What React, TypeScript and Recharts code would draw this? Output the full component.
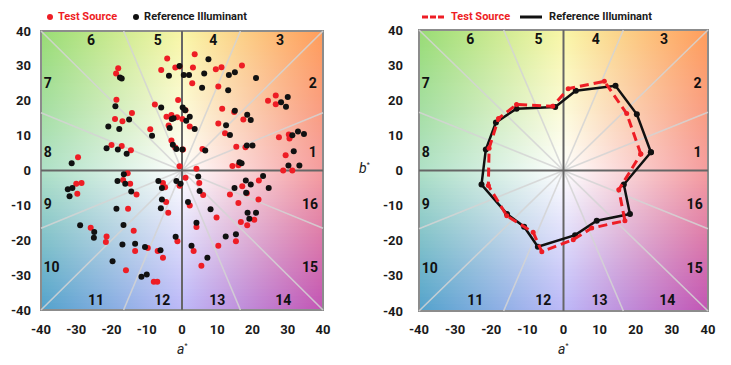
import React from "react"
import {
  Legend,
  ReferenceArea,
  ReferenceLine,
  Scatter,
  ScatterChart,
  XAxis,
  YAxis,
} from "recharts"

type Pt = [number, number]

const axisTicks = [-40, -30, -20, -10, 0, 10, 20, 30, 40]

// left panel: every colour sample, a* / b*
const testSamples: Pt[] = [
  [-18.1, 29.3], [-18.7, 27.8], [-18.6, 20.3], [-19, 14.8], [-16.9, 14.1], [-14.2, 16.5],
  [-7.7, 18.9], [-9, 11.8], [-4.2, 32.1], [-5.9, 28.8], [-1.9, 29.5], [-0.7, 29.8],
  [-1.1, 20.2], [-4.4, 15.4], [-3, 15.9], [-1.4, 15.3], [-3.8, 12.9], [-3, 8.6],
  [-1.9, 6.6], [0.3, 6], [-0.7, 1.2], [1, 17.3], [0.1, 14.8], [2.2, 12.6],
  [3.6, 33.3], [3.1, 29.5], [2.9, 25], [5.8, 6.2], [4.1, 0.5], [9.6, 29],
  [11.2, 29.6], [10.3, 24.1], [11.4, 17.7], [10.3, 13.5], [12.2, 10.7], [14.8, 16.8],
  [17.4, 14.6], [17, 30.1], [15.4, 6.8], [18, 6.7], [14.3, 1.3], [16, 1.5],
  [24.4, 20], [26.6, 21.5], [26.6, 19], [27.5, 9.5], [30.3, 10.3], [30.5, 9.2],
  [29.4, 4.4], [28.7, 0], [31.3, 0], [-29.5, 3.8], [-20, 7.3], [-17.1, 7], [-14.5, 5.8],
  [-15.4, -0.8], [-16.7, -2.7], [-14.7, -3.8], [-12.9, -6.9], [-30, -3.8], [-28.5, -3.6],
  [-29.7, -6.7], [-15.3, -11], [-13.7, -17.3], [-13.3, -23.1], [-21.4, -18.9], [-21.6, -20.5],
  [-25.9, -16.4], [-15.9, -28.6], [-9.7, -22.2], [-8, -31.9], [-7, -31.9], [-6.9, -23.1],
  [-5.4, -25], [-4.5, -9], [-3.9, -12.1], [-5.4, -3.6], [-4.8, -4.8], [-1.3, -20.3],
  [-0.7, -4.4], [1, -2.1], [2.2, -10], [3.3, -23.1], [4.1, -16.2], [4.9, -3.6],
  [6, -7], [5.5, -27.3], [9.8, -13.5], [10.3, -21.6], [13.6, -6.9], [15.3, -20.3],
  [16, -9.3], [16.7, -14.8], [17.1, -4.5], [18.5, -15.7], [18.4, -6.5], [20.5, -14.1],
  [21.7, -8.3], [21.8, -2.9],
]

const refSamples: Pt[] = [
  [-31.3, 2.1], [-21.4, 6.4], [-18.2, 6], [-15.7, 4.8], [-20.9, 12.6], [-17.8, 11.9],
  [-15, 14.6], [-18.9, 18.4], [-17.6, 26.7], [-17.1, 26.4], [-8.5, 10], [-5.9, 18.1],
  [-3.7, 27.2], [-0.7, 30], [0.5, 27.4], [2, 27.4], [0.2, 18.1], [0.9, 17.3],
  [-2.9, 14.8], [-2.4, 15], [1.2, 14.3], [2.2, 15.4], [-3.5, 12.2], [-2.6, 7.4],
  [-1.6, 6.2], [0.1, 6], [3.6, 11.9], [5.7, 23.7], [6.3, 27.8], [7.5, 31.9],
  [6.6, 5.7], [13.3, 27.4], [15, 28.2], [13.1, 23], [12.5, 13], [13.6, 10.2],
  [15, 17.1], [18.5, 16], [19.5, 14.5], [21, 26.5], [18.4, 7.2], [20, 7.2],
  [16.3, 2.4], [16.9, 2.1], [28.1, 19.6], [30, 21.1], [29.5, 18.3], [31.3, 10.1],
  [32.9, 11.2], [34.6, 10.5], [31.7, 5.5], [30.2, 1.4], [33.3, 1.4],
  [-32.4, -5.4], [-31.1, -5], [-31.9, -7.4], [-28.9, -15.7], [-24.9, -17.6], [-25, -19.3],
  [-18.3, -3], [-16.5, -1.1], [-16.1, -3.8], [-14.4, -6], [-18.6, -11], [-16.6, -15.6],
  [-16.9, -21.2], [-13.3, -21], [-10.5, -21.9], [-19.7, -26], [-11.5, -30.5], [-10, -29.8],
  [-6.1, -22.9], [-6.7, -3], [-5.7, -5], [-5.7, -8.3], [-6, -10.8], [-1.6, -3],
  [-0.4, -3.8], [-1.8, -19], [1.7, -9], [2.7, -21.6], [4.1, -15], [4.6, -1.7],
  [5, -5.9], [8.1, -11.1], [7.2, -25], [12.4, -18.9], [14.9, -5], [15.3, -18.3],
  [18.1, -2.9], [18.2, -6.4], [19.5, -4], [18.6, -12.1], [21, -12.1], [19.1, -13.8],
  [23, -1.6], [24.6, -5],
]

// right panel: average per hue bin 1..16
const testBinA = [21.4, 17.5, 11.3, 1.3, -3, -13, -18, -20.6, -20.8, -15.7, -8.4, -6, 2.7, 7.8, 17, 15.3]
const testBinB = [4.7, 16.2, 25.4, 23.3, 18.3, 18.8, 14.8, 6.3, -4.3, -12.9, -17.6, -23.1, -19.7, -16.4, -14.3, -5.5]
const refBinA = [24.2, 20.3, 14.4, 3.4, -2.3, -13, -18.7, -21.5, -22.7, -15.6, -10.9, -7.1, 3.2, 9.2, 18.4, 16.7]
const refBinB = [5.2, 16, 24.1, 22.7, 18.1, 17.6, 13.7, 6, -4, -12.4, -16, -21.7, -18.4, -14.3, -12.4, -4]

const binNumbers = [1, 2, 3, 4, 5, 6, 7, 8, 9, 10, 11, 12, 13, 14, 15, 16]
const binLabelA = [37.1, 37.1, 27.8, 8.9, -6.9, -25.8, -38.1, -38.1, -38.1, -37, -24.4, -5.6, 10, 28.7, 36.3, 36.3]
const binLabelB = [5.2, 25, 37.4, 37.4, 37.4, 37.4, 25, 5.2, -9.5, -27.7, -37, -37, -37, -37, -27.7, -9.5]

const sectorAngles = [22.5, 45, 67.5, 112.5, 135, 157.5]

const RED = "#ee1d25"
const BLACK = "#111111"

const toXY = (pts: Pt[]) => pts.map(([x, y]) => ({ x, y }))
const closedRing = (a: number[], b: number[]) => {
  const pts = a.map((x, i) => ({ x, y: b[i] }))
  return [...pts, pts[0]]
}
const binLabels = binNumbers.map((n, i) => ({ n, x: binLabelA[i], y: binLabelB[i] }))

// background: bilinear blend of a 3x3 colour grid (rows b=-40,0,40; cols a=-40,0,40)
const bgGrid = [
  ["#52a2cc", "#bcb8f8", "#c254b4"],
  ["#aee0c6", "#ffffff", "#f59c9e"],
  ["#98dc74", "#f9f6a6", "#ff9c5a"],
]
const hex = (h: string) => [1, 3, 5].map((i) => parseInt(h.slice(i, i + 2), 16))
const mix = (c1: number[], c2: number[], t: number) => c1.map((v, i) => v + (c2[i] - v) * t)
function bgColor(a: number, b: number) {
  const ix = a < 0 ? 0 : 1
  const iy = b < 0 ? 0 : 1
  const tx = (a - (ix * 40 - 40)) / 40
  const ty = (b - (iy * 40 - 40)) / 40
  const lo = mix(hex(bgGrid[iy][ix]), hex(bgGrid[iy][ix + 1]), tx)
  const hi = mix(hex(bgGrid[iy + 1][ix]), hex(bgGrid[iy + 1][ix + 1]), tx)
  const c = mix(lo, hi, ty)
  return `rgb(${c.map((v) => Math.round(v)).join(",")})`
}
const bgRows = Array.from({ length: 80 }, (_, i) => -40 + i)

function sectorEnd(deg: number) {
  const t = Math.tan((deg * Math.PI) / 180)
  return Math.abs(t) <= 1 ? { x: 40, y: 40 * t } : { x: 40 / t, y: 40 }
}

const font = "Roboto, 'DejaVu Sans', sans-serif"
const tickStyle = { fill: "#1a1a1a", fontSize: 13, fontWeight: 700, fontFamily: font }

function backdrop(p: string) {
  const els: React.ReactNode[] = bgRows.map((b, i) => (
    <ReferenceArea
      key={`${p}bg${i}`}
      x1={-40}
      x2={40}
      y1={b}
      y2={Math.min(40, b + 1.4)}
      fill={`url(#bgrow${i})`}
      fillOpacity={1}
      stroke="none"
    />
  ))
  sectorAngles.forEach((d) => {
    const e = sectorEnd(d)
    els.push(
      <ReferenceLine
        key={`${p}s${d}`}
        segment={[{ x: -e.x, y: -e.y }, { x: e.x, y: e.y }]}
        stroke="#d4d4d4"
        strokeOpacity={0.85}
        strokeWidth={1.6}
      />
    )
  })
  els.push(<ReferenceLine key={`${p}x0`} x={0} stroke="#666" strokeWidth={2} />)
  els.push(<ReferenceLine key={`${p}y0`} y={0} stroke="#666" strokeWidth={2} />)
  els.push(
    <ReferenceArea key={`${p}frame`} x1={-40} x2={40} y1={-40} y2={40} fill="none" stroke="#8c8c8c" strokeWidth={2} />
  )
  els.push(
    <Scatter
      key={`${p}bins`}
      data={binLabels}
      legendType="none"
      isAnimationActive={false}
      shape={(s: any) => (
        <text
          x={s.cx}
          y={s.cy}
          textAnchor="middle"
          dominantBaseline="central"
          fontSize={14}
          fontWeight={700}
          fontFamily={font}
          fill="#111"
        >
          {s.payload.n}
        </text>
      )}
    />
  )
  return els
}

const dot = (r: number, fill: string) => (s: any) => <circle cx={s.cx} cy={s.cy} r={r} fill={fill} />

function LegendRow({ items, line }: { items: { label: string; color: string; dash?: boolean }[]; line: boolean }) {
  return (
    <div style={{ display: "flex", alignItems: "center", fontFamily: font, fontSize: 11, fontWeight: 700, whiteSpace: "nowrap" }}>
      {items.map((it, i) => (
        <div key={i} style={{ display: "flex", alignItems: "center", marginRight: line ? 10 : 16 }}>
          {line ? (
            <svg width={22} height={6} style={{ marginRight: 7 }}>
              <line x1={0} y1={3} x2={22} y2={3} stroke={it.color} strokeWidth={3} strokeDasharray={it.dash ? "6 2" : undefined} />
            </svg>
          ) : (
            <span style={{ width: 6, height: 6, borderRadius: 3, background: it.color, marginRight: 5, display: "inline-block" }} />
          )}
          <span style={{ color: it.color === RED ? RED : "#1a1a1a" }}>{it.label}</span>
        </div>
      ))}
    </div>
  )
}

const axisLabel = (letter: string, left: number, top: number) => (
  <div style={{ position: "absolute", left, top, fontFamily: font, fontSize: 14, fontStyle: "italic", color: "#222" }}>
    {letter}
    <sup style={{ fontSize: 7, fontStyle: "normal" }}>*</sup>
  </div>
)

export default function App() {
  return (
    <div style={{ position: "absolute", left: 0, top: 0, width: 731, height: 365, background: "#fff" }}>
      <svg width={0} height={0} style={{ position: "absolute" }}>
        <defs>
          {bgRows.map((b, i) => (
            <linearGradient key={i} id={`bgrow${i}`} x1="0" y1="0" x2="1" y2="0">
              <stop offset="0" stopColor={bgColor(-40, b + 0.5)} />
              <stop offset="0.5" stopColor={bgColor(0, b + 0.5)} />
              <stop offset="1" stopColor={bgColor(40, b + 0.5)} />
            </linearGradient>
          ))}
        </defs>
      </svg>

      <div style={{ position: "absolute", left: 0, top: 0 }}>
        <ScatterChart width={365} height={365} margin={{ top: 31, right: 42, bottom: 25, left: 8 }}>
          <XAxis type="number" dataKey="x" domain={[-40, 40]} ticks={axisTicks} axisLine={false} tickLine={false} tickSize={0} tickMargin={15} height={30} tick={tickStyle} interval={0} />
          <YAxis type="number" dataKey="y" domain={[-40, 40]} ticks={axisTicks} axisLine={false} tickLine={false} tickSize={0} tickMargin={10} width={33} tick={tickStyle} interval={0} />
          {backdrop("l")}
          <Scatter name="Test Source" data={toXY(testSamples)} fill={RED} shape={dot(3, RED)} isAnimationActive={false} />
          <Scatter name="Reference Illuminant" data={toXY(refSamples)} fill={BLACK} shape={dot(3, BLACK)} isAnimationActive={false} />
          <Legend
            layout="horizontal"
            verticalAlign="middle"
            align="center"
            wrapperStyle={{ top: 10, left: 47, width: 300 }}
            content={() => (
              <LegendRow line={false} items={[{ label: "Test Source", color: RED }, { label: "Reference Illuminant", color: BLACK }]} />
            )}
          />
        </ScatterChart>
      </div>

      <div style={{ position: "absolute", left: 365, top: 0 }}>
        <ScatterChart width={366} height={365} margin={{ top: 30, right: 23, bottom: 24, left: 18 }}>
          <XAxis type="number" dataKey="x" domain={[-40, 40]} ticks={axisTicks} axisLine={false} tickLine={false} tickSize={0} tickMargin={14} height={30} tick={tickStyle} interval={0} />
          <YAxis type="number" dataKey="y" domain={[-40, 40]} ticks={axisTicks} axisLine={false} tickLine={false} tickSize={0} tickMargin={16} width={36} tick={tickStyle} interval={0} />
          {backdrop("r")}
          <Scatter
            name="Reference Illuminant"
            data={closedRing(refBinA, refBinB)}
            fill={BLACK}
            line={{ stroke: BLACK, strokeWidth: 2.5 }}
            shape={dot(3, BLACK)}
            isAnimationActive={false}
          />
          <Scatter
            name="Test Source"
            data={closedRing(testBinA, testBinB)}
            fill={RED}
            line={{ stroke: RED, strokeWidth: 3, strokeDasharray: "9 5" }}
            shape={dot(2.5, RED)}
            isAnimationActive={false}
          />
          <Legend
            layout="horizontal"
            verticalAlign="middle"
            align="center"
            wrapperStyle={{ top: 10, left: 57, width: 300 }}
            content={() => (
              <LegendRow
                line
                items={[{ label: "Test Source", color: RED, dash: true }, { label: "Reference Illuminant", color: BLACK }]}
              />
            )}
          />
        </ScatterChart>
      </div>

      {axisLabel("a", 177, 341)}
      {axisLabel("a", 558, 341)}
      {axisLabel("b", 359, 160)}
    </div>
  )
}
